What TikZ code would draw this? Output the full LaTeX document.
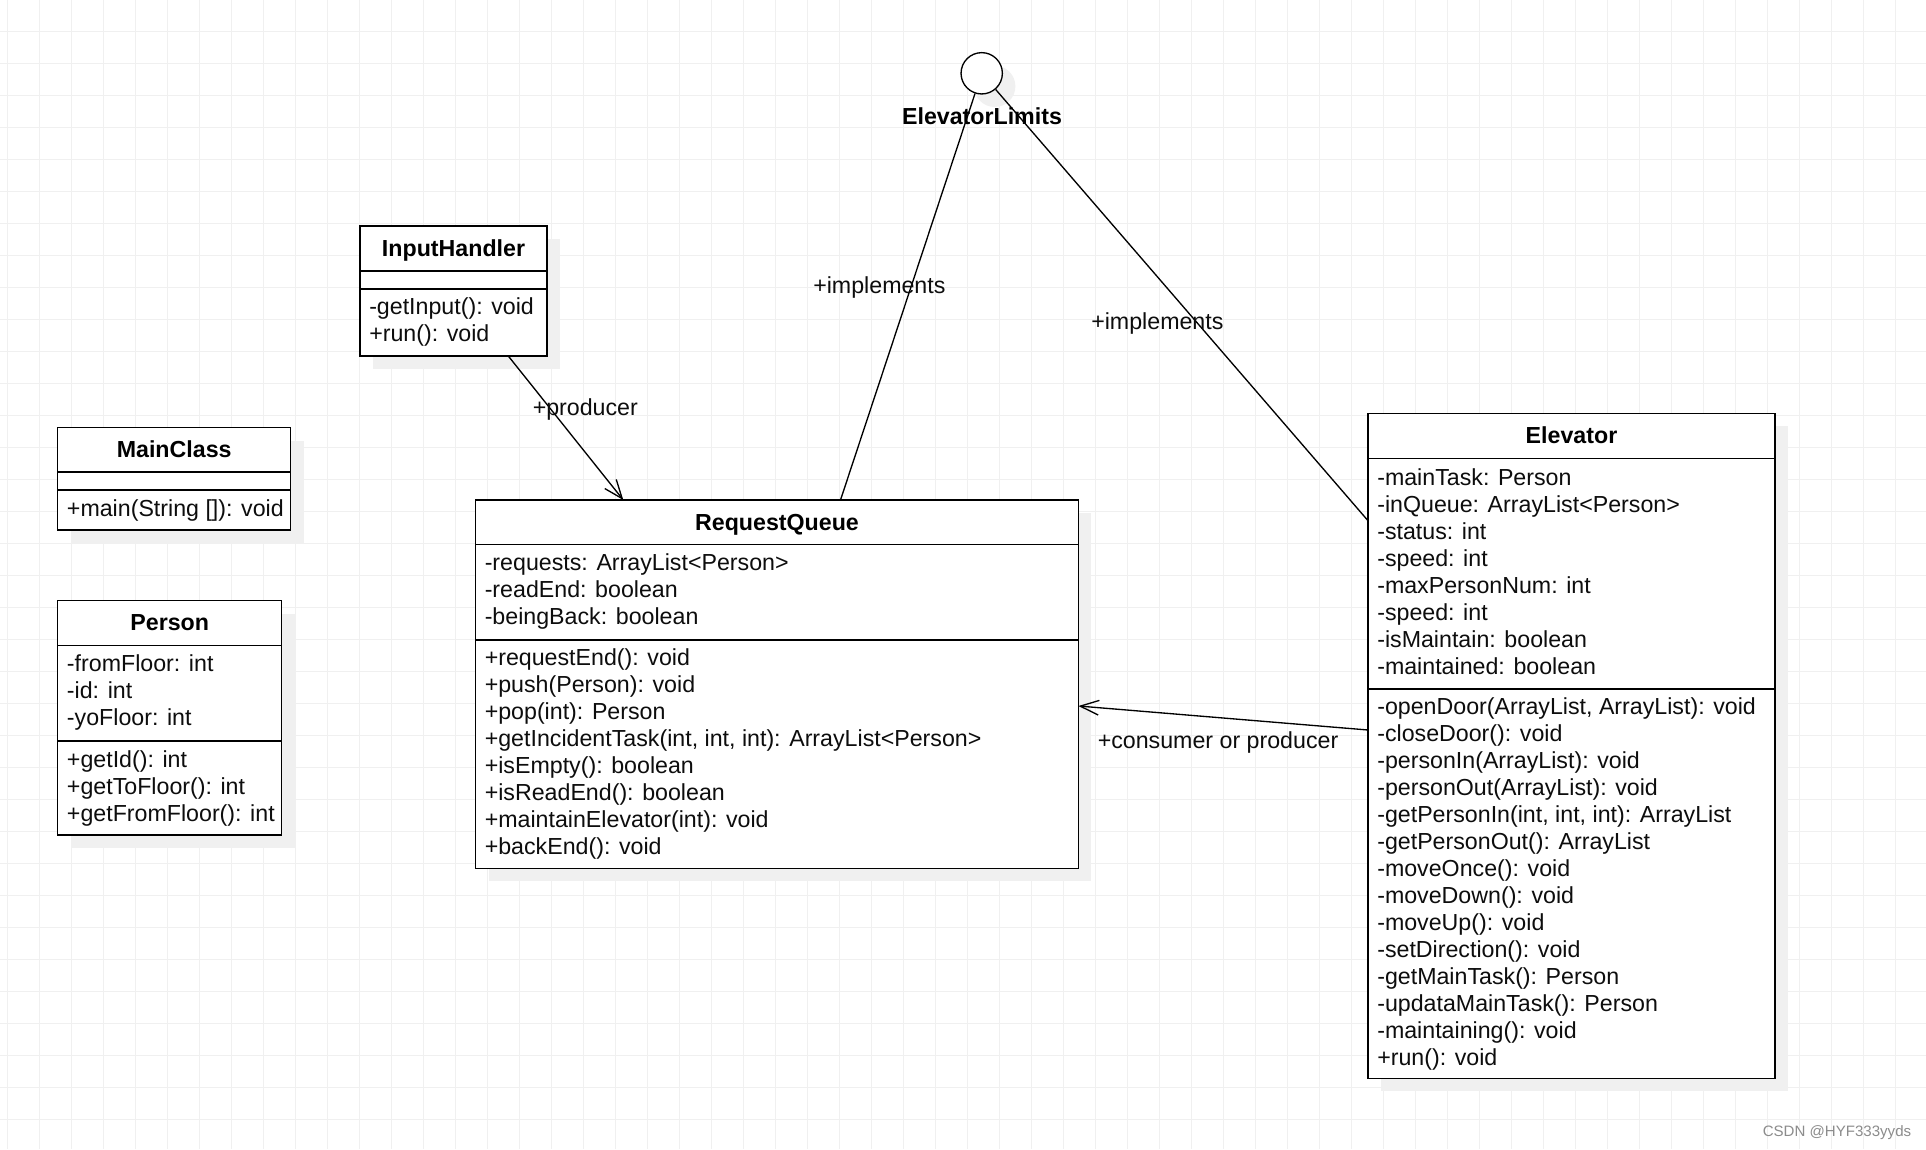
\documentclass[tikz,border=0pt]{standalone}
\usepackage{fontspec}
\setmainfont{Liberation Sans}
\usetikzlibrary{fit,shadows,calc,arrows.meta}

\newcommand\clslines[4]{%
  \foreach \t [count=\k from 0] in {#4}{\node[mtext] (#1-\k) at (#2,{#3+27*\k}) {\t};}}

\tikzset{
  gridl/.style={line width=0.7pt, draw=black!6},
  shd/.style={drop shadow={shadow xshift=9.75pt, shadow yshift=-9.75pt, fill=black!6, opacity=1}},
  clsbox/.style={draw, line width=1pt, fill=white, inner sep=0pt, outer sep=0pt, shd},
  sepline/.style={line width=1pt},
  mtext/.style={inner sep=0pt, anchor=base west, font=\fontsize{17.4pt}{20pt}\selectfont, text=black!95},
  htext/.style={inner sep=0pt, anchor=base, font=\fontsize{17.4pt}{20pt}\selectfont\bfseries},
  lbl/.style={inner sep=0pt, anchor=base west, font=\fontsize{17.4pt}{20pt}\selectfont, text=black!95},
  conn/.style={line width=1pt},
  openarr/.style={-{Straight Barb[length=14pt, width=11pt, line width=1pt]}},
}

\begin{document}
\begin{tikzpicture}[x=0.75pt,y=-0.75pt]
\useasboundingbox (0,0) rectangle (1926,1149);
\fill[white] (0,0) rectangle (1926,1149);

% grid
\begin{scope}
\clip (0,0) rectangle (1926,1149);
\foreach \i in {0,...,60} {\draw[gridl] ({7.3+32*\i},0) -- ({7.3+32*\i},1149);}
\foreach \j in {0,...,35} {\draw[gridl] (0,{31.3+32*\j}) -- (1926,{31.3+32*\j});}
\end{scope}

% interface circle
\node[draw, circle, line width=1pt, minimum size=31pt, inner sep=0pt, fill=white, shd] (circ) at (981.7,73.3) {};
\node[htext] (circlbl) at (982,124.3) {ElevatorLimits};

% InputHandler
\node[clsbox, fit={(360,226) (547,356)}] (ih) {};
\draw[sepline] (360,271) -- (547,271);
\draw[sepline] (360,289) -- (547,289);
\node[htext] (ih-h) at (453.5,256) {InputHandler};
\clslines{ihm}{369}{314}{{-getInput(): void},{+run(): void}}

% MainClass
\node[clsbox, fit={(57.7,427.7) (290.7,530)}] (mc) {};
\draw[sepline] (57.7,472) -- (290.7,472);
\draw[sepline] (57.7,490) -- (290.7,490);
\node[htext] (mc-h) at (174.2,457.7) {MainClass};
\clslines{mcm}{66.7}{516.7}{{+main(String []): void}}

% Person
\node[clsbox, fit={(57.7,600.7) (281.7,835)}] (ps) {};
\draw[sepline] (57.7,645.7) -- (281.7,645.7);
\draw[sepline] (57.7,741) -- (281.7,741);
\node[htext] (ps-h) at (169.7,630.7) {Person};
\clslines{psa}{66.7}{671.7}{{-fromFloor: int},{-id: int},{-yoFloor: int}}
\clslines{psm}{66.7}{767}{{+getId(): int},{+getToFloor(): int},{+getFromFloor(): int}}

% RequestQueue
\node[clsbox, fit={(475.5,500) (1078.4,868.3)}] (rq) {};
\draw[sepline] (475.5,544.7) -- (1078.4,544.7);
\draw[sepline] (475.5,640) -- (1078.4,640);
\node[htext] (rq-h) at (777,530) {RequestQueue};
\clslines{rqa}{484.5}{570.7}{{-requests: ArrayList<Person>},{-readEnd: boolean},{-beingBack: boolean}}
\clslines{rqm}{484.5}{665.7}{{+requestEnd(): void},{+push(Person): void},{+pop(int): Person},{+getIncidentTask(int, int, int): ArrayList<Person>},{+isEmpty(): boolean},{+isReadEnd(): boolean},{+maintainElevator(int): void},{+backEnd(): void}}

% Elevator
\node[clsbox, fit={(1368,413.3) (1775,1078.3)}] (el) {};
\draw[sepline] (1368,458.3) -- (1775,458.3);
\draw[sepline] (1368,689) -- (1775,689);
\node[htext] (el-h) at (1571.5,443) {Elevator};
\clslines{ela}{1377}{485}{{-mainTask: Person},{-inQueue: ArrayList<Person>},{-status: int},{-speed: int},{-maxPersonNum: int},{-speed: int},{-isMaintain: boolean},{-maintained: boolean}}
\clslines{elm}{1377}{714}{{-openDoor(ArrayList, ArrayList): void},{-closeDoor(): void},{-personIn(ArrayList): void},{-personOut(ArrayList): void},{-getPersonIn(int, int, int): ArrayList},{-getPersonOut(): ArrayList},{-moveOnce(): void},{-moveDown(): void},{-moveUp(): void},{-setDirection(): void},{-getMainTask(): Person},{-updataMainTask(): Person},{-maintaining(): void},{+run(): void}}

% connectors
\draw[conn, openarr] ($(ih.south west)+(148.3,0)$) -- ($(rq.north west)+(147.8,0)$);
\draw[conn] (circ) -- ($(rq.north west)+(365,0)$);
\draw[conn] (circ) -- ($(el.north west)+(0,107.4)$);
\draw[conn, openarr] ($(el.north west)+(0,316.7)$) -- ($(rq.north east)+(0,206)$);

% connector labels
\node[lbl] (lprod) at (532.5,415) {+producer};
\node[lbl] (limp1) at (813,293.7) {+implements};
\node[lbl] (limp2) at (1091,329.7) {+implements};
\node[lbl] (lcons) at (1097.5,748.3) {+consumer or producer};

% watermark
\node[inner sep=0pt, anchor=base west, font=\fontsize{11.3pt}{13pt}\selectfont, text=black!45] (wm) at (1762.5,1136.7) {CSDN @HYF333yyds};
\end{tikzpicture}
\end{document}
